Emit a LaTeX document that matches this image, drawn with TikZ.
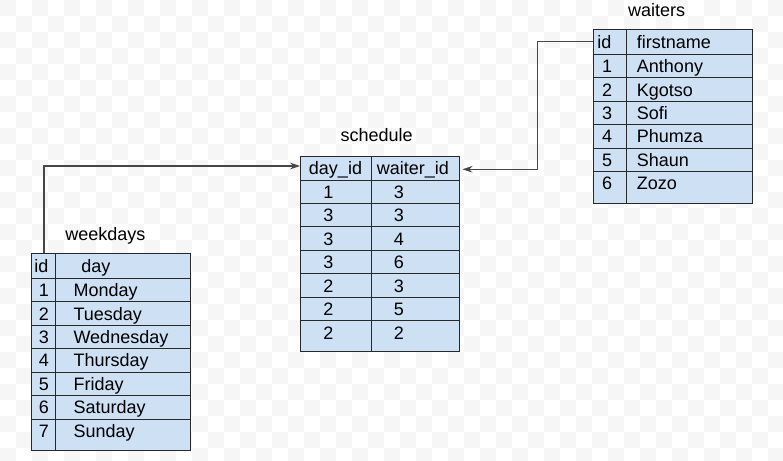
\documentclass[tikz,border=0pt]{standalone}
\usepackage{fontspec}
\setmainfont{Liberation Sans}
\usetikzlibrary{arrows.meta}

\definecolor{cellblue}{RGB}{206,224,244}
\definecolor{checkgray}{RGB}{246,246,246}
\definecolor{linegray}{RGB}{40,40,40}
\definecolor{wiregray}{RGB}{70,70,70}
\def\u{0.75pt}
\def\rh{23.45}

\begin{document}
\begin{tikzpicture}[x=\u,y=-\u,
  font=\fontsize{13.5}{16}\selectfont,
  tbl/.style={draw=linegray, fill=cellblue, line width=0.75pt, anchor=north west, inner sep=0pt},
  grid/.style={draw=linegray, line width=0.75pt},
  num/.style={anchor=base, inner sep=0pt},
  word/.style={anchor=base west, inner sep=0pt},
  link/.style={draw=wiregray, line width=0.9pt, -{Stealth[length=7.5pt,width=5pt]}}]
\useasboundingbox (0,0) rectangle (783,461);
% checkered background
\begin{scope}
\clip (0,0) rectangle (783,461);
\foreach \i in {0,...,48}{
  \foreach \j in {0,...,28}{
    \ifodd\numexpr\i+\j\relax\else
      \fill[checkgray] (16*\i,16*\j) rectangle ++(16,16);
    \fi
  }
}
\end{scope}

% weekdays table
\node[tbl, minimum width=159*\u, minimum height=196.7*\u] (weekdays) at (31,253.3) {};
\draw[grid] (55.3,253.3) -- (55.3,450);
\foreach \k in {0,...,6} \draw[grid] (31,{278.3+\k*\rh}) -- (190,{278.3+\k*\rh});
\node[num] (wd-title) at (105.3,240) {weekdays};
\node[word] (wd-id) at (34,272) {id};
\node[word] (wd-day) at (81,272) {day};
\foreach \n/\d [count=\k] in {1/Monday,2/Tuesday,3/Wednesday,4/Thursday,5/Friday,6/Saturday,7/Sunday}{
  \node[num] (wd-n\k) at (44,{278.3+(\k-0.5)*\rh+6.6}) {\n};
  \node[word] (wd-d\k) at (73.3,{278.3+(\k-0.5)*\rh+6.6}) {\d};
}

% schedule table
\node[tbl, minimum width=159*\u, minimum height=195*\u] (schedule) at (300,156) {};
\draw[grid] (371,156) -- (371,351);
\foreach \k in {0,...,6} \draw[grid] (300,{180+\k*\rh}) -- (459,{180+\k*\rh});
\node[num] (sc-title) at (376.7,141.7) {schedule};
\node[num] (sc-day) at (335.5,174.3) {day\_id};
\node[num] (sc-waiter) at (412.8,174.3) {waiter\_id};
\foreach \a/\b [count=\k] in {1/3,3/3,3/4,3/6,2/3,2/5,2/2}{
  \node[num] (sc-a\k) at (328.3,{180+(\k-0.5)*\rh+6.6}) {\a};
  \node[num] (sc-b\k) at (399,{180+(\k-0.5)*\rh+6.6}) {\b};
}

% waiters table
\node[tbl, minimum width=159*\u, minimum height=173.7*\u] (waiters) at (593.3,29) {};
\draw[grid] (626,29) -- (626,202.7);
\foreach \k in {0,...,5} \draw[grid] (593.3,{54.3+\k*\rh}) -- (752.3,{54.3+\k*\rh});
\node[num] (wt-title) at (656.7,16.7) {waiters};
\node[word] (wt-id) at (597,48.3) {id};
\node[word] (wt-name) at (636.7,48.3) {firstname};
\foreach \n/\d [count=\k] in {1/Anthony,2/Kgotso,3/Sofi,4/Phumza,5/Shaun,6/Zozo}{
  \node[num] (wt-n\k) at (607.2,{54.3+(\k-0.5)*\rh+6.6}) {\n};
  \node[word] (wt-d\k) at (636.7,{54.3+(\k-0.5)*\rh+6.6}) {\d};
}

% links
\draw[link] ([xshift=13*\u]weekdays.north west) |- ([yshift=-10*\u]schedule.north west);
\draw[link, shorten >=2.5*\u] ([yshift=-12.7*\u]waiters.north west) -- ++(-56,0) |- ([yshift=-13.3*\u]schedule.north east);
\end{tikzpicture}
\end{document}
